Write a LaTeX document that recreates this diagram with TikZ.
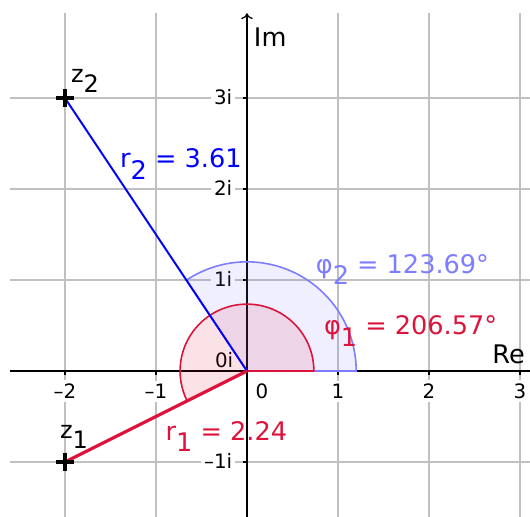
\documentclass[tikz,border=0pt]{standalone}
\usepackage{fontspec}
\setmainfont{DejaVu Sans}
\usetikzlibrary{arrows.meta}
\definecolor{crim}{RGB}{220,20,60}
\definecolor{lblue}{RGB}{125,125,255}
\definecolor{gridgray}{RGB}{192,192,192}
\newcommand\subdown[1]{\raisebox{-0.45em}{#1}}
\tikzset{gridline/.style={gridgray,line width=0.6pt},
  axisline/.style={black,line width=0.4pt},
  ticklabel/.style={fill=white,inner sep=1pt,font=\fontsize{6.2}{7.2}\selectfont},
  biglabel/.style={inner sep=0pt,anchor=base west,font=\fontsize{8}{9.6}\selectfont},
  ptlabel/.style={inner sep=0pt,anchor=base west,font=\fontsize{7.5}{9}\selectfont},
  cross/.style={black,line width=1.3pt}}

\begin{document}
\begin{tikzpicture}
\useasboundingbox (-2.714,-1.604) rectangle (3.110,4.077);

% grid
\foreach \x in {-2,...,3}
  \draw[gridline] (\x,-1.604) -- (\x,3.934);
\foreach \y in {-1,...,3}
  \draw[gridline] (-2.604,\y) -- (3.110,\y);

% tick labels
\foreach \x/\t [count=\i] in {-2/–2,-1/–1,1/1,2/2,3/3}
  \node[ticklabel,anchor=base] (xl\i) at (\x,-0.30) {\t};
\node[ticklabel,anchor=base] (xl0) at (0.165,-0.30) {0};
\foreach \y/\t [count=\i] in {-1/–1i,1/1i,2/2i,3/3i}
  \node[ticklabel,anchor=base east] (yl\i) at (-0.12,\y-0.066) {\t};
\node[ticklabel,anchor=base east] (yl0) at (-0.11,0.044) {0i};

% axes
\draw[axisline] (-2.604,0) -- (3.110,0);
\draw[axisline,-{To[length=1.8pt,width=3.6pt]}] (0,-1.604) -- (0,3.93);
\foreach \x in {-2,...,3}
  \draw[axisline] (\x,0) -- (\x,-0.045);
\foreach \y in {-1,...,3}
  \draw[axisline] (0,\y) -- (-0.045,\y);

% the points
\coordinate (o) at (0,0);
\coordinate (z1) at (-2,-1);
\coordinate (z2) at (-2,3);

% angle sectors
\filldraw[lblue,fill opacity=0.12,line width=0.5pt] (o) -- (1.2,0) arc[start angle=0,end angle=123.69,radius=1.2] -- cycle;
\filldraw[crim,fill opacity=0.12,line width=0.5pt] (o) -- (0.735,0) arc[start angle=0,end angle=206.57,radius=0.735] -- cycle;

% moduli
\draw[blue,line width=0.6pt] (z2) -- (o);
\draw[crim,line width=1pt] (z1) -- (o);

% draw a cross at each point
\foreach \p in {z1,z2}
  \draw[cross] (\p) +(-0.1,0) -- +(0.1,0) (\p) +(0,-0.1) -- +(0,0.1);

% labels
\node[ptlabel] (lz2) at (-1.94,3.176) {z\subdown{2}};
\node[ptlabel] (lz1) at (-2.06,-0.736) {z\subdown{1}};
\node[biglabel,blue] (lr2) at (-1.40,2.231) {r\subdown{2} = 3.61};
\node[biglabel,crim] (lr1) at (-0.90,-0.758) {r\subdown{1} = 2.24};
\node[biglabel,lblue] (lphi2) at (0.75,1.077) {φ\subdown{2} = 123.69°};
\node[biglabel,crim] (lphi1) at (0.84,0.396) {φ\subdown{1} = 206.57°};
\node[biglabel] (lim) at (0.07,3.571) {Im};
\node[biglabel] (lre) at (2.69,0.088) {Re};

\end{tikzpicture}
\end{document}
